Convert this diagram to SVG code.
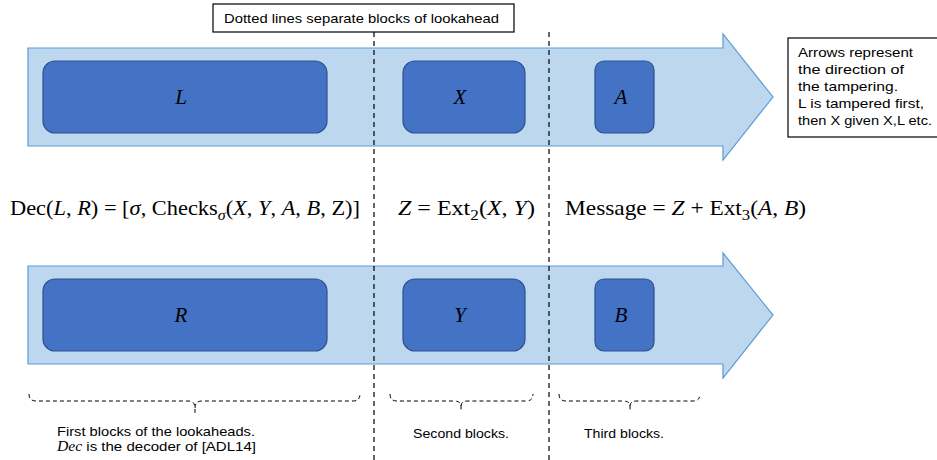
<svg xmlns="http://www.w3.org/2000/svg" width="937" height="460" viewBox="0 0 937 460">
<style>
.arrow{fill:#BDD7EE;stroke:#5B9BD5;stroke-width:1.2}
.blk{fill:#4472C4;stroke:#2F528F;stroke-width:1.2}
.lbl{font-family:"Liberation Serif",serif;font-style:italic;font-size:21px;fill:#000;text-anchor:middle}
.note{font-family:"Liberation Sans",sans-serif;font-size:13.5px;fill:#000}
.math{font-family:"Liberation Serif",serif;font-size:21px;fill:#000}
.it{font-style:italic}
.dash{stroke:#000;stroke-width:1.2;stroke-dasharray:5,4;fill:none}
.brace{stroke:#000;stroke-width:1;stroke-dasharray:4,3;fill:none}
.box{fill:#fff;stroke:#000;stroke-width:1.2}
</style>
<g id="top-arrow">
<polygon class="arrow" points="28,48 723,48 723,34 773,97 723,160 723,146 28,146"/>
</g>
<g id="bottom-arrow">
<polygon class="arrow" points="28,266 723,266 723,253 773,315 723,378 723,364 28,364"/>
</g>
<g id="node-L"><rect class="blk" x="43" y="61" width="284" height="72" rx="12"/><text class="lbl" x="181" y="104">L</text></g>
<g id="node-X"><rect class="blk" x="403" y="61" width="122" height="72" rx="12"/><text class="lbl" x="460" y="104">X</text></g>
<g id="node-A"><rect class="blk" x="595" y="61" width="59" height="72" rx="9"/><text class="lbl" x="621" y="104">A</text></g>
<g id="node-R"><rect class="blk" x="43" y="279" width="284" height="72" rx="12"/><text class="lbl" x="181" y="322">R</text></g>
<g id="node-Y"><rect class="blk" x="403" y="279" width="122" height="72" rx="12"/><text class="lbl" x="460" y="322">Y</text></g>
<g id="node-B"><rect class="blk" x="595" y="279" width="59" height="72" rx="9"/><text class="lbl" x="621" y="322">B</text></g>
<g id="connectors">
<line class="dash" x1="374" y1="32" x2="374" y2="460"/>
<line class="dash" x1="549" y1="32" x2="549" y2="460"/>
</g>
<g id="title-box">
<rect class="box" x="213" y="4" width="301" height="28"/>
<text class="note" x="224" y="23" textLength="275" lengthAdjust="spacingAndGlyphs">Dotted lines separate blocks of lookahead</text>
</g>
<g id="legend-box">
<rect class="box" x="788" y="38" width="150" height="99"/>
<text class="note" x="798" y="57" textLength="115" lengthAdjust="spacingAndGlyphs">Arrows represent</text>
<text class="note" x="798" y="74" textLength="106" lengthAdjust="spacingAndGlyphs">the direction of</text>
<text class="note" x="798" y="91" textLength="100" lengthAdjust="spacingAndGlyphs">the tampering.</text>
<text class="note" x="798" y="108" textLength="126" lengthAdjust="spacingAndGlyphs">L is tampered first,</text>
<text class="note" x="798" y="125" textLength="134" lengthAdjust="spacingAndGlyphs">then X given X,L etc.</text>
</g>
<g id="formula-dec">
<text class="math" x="10" y="215" textLength="350" lengthAdjust="spacingAndGlyphs">Dec(<tspan class="it">L</tspan>, <tspan class="it">R</tspan>) = [<tspan class="it">σ</tspan>, Checks<tspan class="it" font-size="15" dy="5">σ</tspan><tspan dy="-5">(</tspan><tspan class="it">X</tspan>, <tspan class="it">Y</tspan>, <tspan class="it">A</tspan>, <tspan class="it">B</tspan>, Z)]</text>
</g>
<g id="formula-z">
<text class="math" x="398" y="215" textLength="137" lengthAdjust="spacingAndGlyphs"><tspan class="it">Z</tspan> = Ext<tspan font-size="15" dy="5">2</tspan><tspan dy="-5">(</tspan><tspan class="it">X</tspan>, <tspan class="it">Y</tspan>)</text>
</g>
<g id="formula-msg">
<text class="math" x="565" y="215" textLength="241" lengthAdjust="spacingAndGlyphs">Message = <tspan class="it">Z</tspan> + Ext<tspan font-size="15" dy="5">3</tspan><tspan dy="-5">(</tspan><tspan class="it">A</tspan>, <tspan class="it">B</tspan>)</text>
</g>
<g id="brace-first">
<path class="brace" d="M29,394 Q29,401 36,401 L188,401 Q195,401 195,408 L195,413 M195,408 Q195,401 202,401 L353,401 Q360,401 360,394"/>
<text class="note" x="57" y="436" textLength="198" lengthAdjust="spacingAndGlyphs">First blocks of the lookaheads.</text>
<text class="note" x="57" y="451" textLength="199" lengthAdjust="spacingAndGlyphs"><tspan class="it" font-family="Liberation Serif, serif" font-size="14">Dec</tspan> is the decoder of [ADL14]</text>
</g>
<g id="brace-second">
<path class="brace" d="M390,394 Q390,401 397,401 L454,401 Q461,401 461,406 L461,410 M461,406 Q461,401 468,401 L526,401 Q533,401 533,394"/>
<text class="note" x="413" y="438" textLength="96" lengthAdjust="spacingAndGlyphs">Second blocks.</text>
</g>
<g id="brace-third">
<path class="brace" d="M559,394 Q559,401 566,401 L623,401 Q630,401 630,406 L630,410 M630,406 Q630,401 637,401 L693,401 Q700,401 700,394"/>
<text class="note" x="584" y="438" textLength="80" lengthAdjust="spacingAndGlyphs">Third blocks.</text>
</g>
</svg>
